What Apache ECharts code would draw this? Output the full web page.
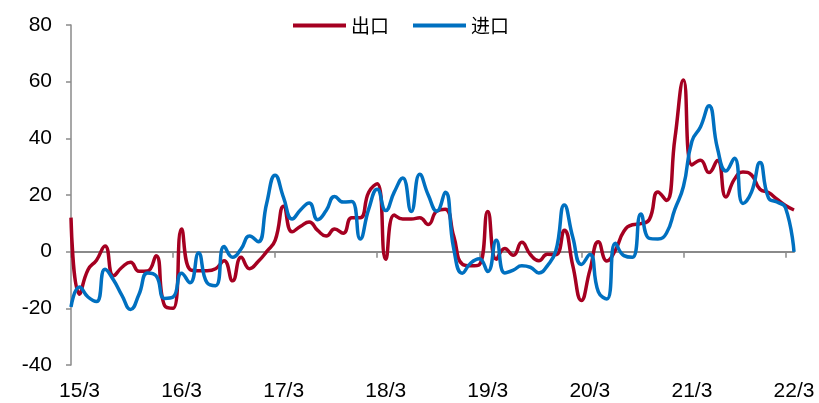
<!DOCTYPE html>
<html>
<head>
<meta charset="utf-8">
<title>出口 进口</title>
<script src="https://cdn.jsdelivr.net/npm/echarts@6/dist/echarts.min.js"></script>
<style>
  html, body { margin: 0; padding: 0; background: #fff; }
  #chart { width: 819px; height: 403px; }
</style>
</head>
<body>
<div id="chart"></div>
<script>
// 当月同比（%），2015/2 - 2022/3
var exportYoY = [
  12, -15, -6.4, -3, 2, -8.5, -5.5, -3.7, -6.9, -6.8, -1.4,
  -19, -20, 8, -6.3, -6.7, -6.7, -6, -3.2, -10.3, -2, -6, -3.5,
  0, 4, 16, 7, 9, 10.5, 7.5, 5.5, 8, 6.5, 12, 12,
  21, 24, -2.7, 12.9, 11.5, 11.5, 12, 9.6, 14.3, 15, 5.4, -4.4,
  -5, -4.6, 14.2, -2.7, 1.1, -1.3, 3.3, -1, -3.2, -0.9, -1.1, 7.6,
  -5, -17.2, -6.6, 3.5, -3.3, 0.5, 7.2, 9.5, 9.9, 11.4, 21.1, 18.1,
  40, 60.6, 30.6, 32.3, 27.9, 32.2, 19.3, 25.6, 28.1, 27.1, 22, 20.9,
  18.5, 16.3, 14.7
];
var importYoY = [
  -19.5, -12.5, -16, -17.6, -6.2, -10, -15.5, -20.4, -15, -7.5, -8.5,
  -16.5, -16, -7.6, -11, -0.5, -11, -12, 1.8, -2, 1, 5.5, 3.5,
  17, 27, 19, 11.5, 14.8, 17.2, 11.3, 14.5, 19.5, 17.5, 17.7, 4.5,
  15, 22, 14.5, 21, 26, 14.2, 27.3, 20, 14.3, 21, 1, -7.6,
  -4, -2.5, -7, 4, -7.5, -6.5, -5, -5.5, -7.5, -5, 0.3, 16.5,
  5, -4.5, -1, -14.2, -16.7, 3, -1.4, -2, 13.3, 4.7, 4.5, 6.5,
  15, 23, 39, 44, 51.5, 36.5, 28.5, 33, 17, 21, 31.5, 19,
  17.5, 15.5, -0.1
];
var tickLabels = ['15/3', '16/3', '17/3', '18/3', '19/3', '20/3', '21/3', '22/3'];
var seriesNames = ['出口', '进口'];

// 月份类目 15/2 ... 22/3
var months = [];
for (var y = 15; y <= 22; y++) {
  for (var m = 1; m <= 12; m++) {
    if ((y === 15 && m < 2) || (y === 22 && m > 3)) continue;
    months.push(y + '/' + m);
  }
}

var chart = echarts.init(document.getElementById('chart'));
var font = '"Liberation Sans", Arial, sans-serif';
var axisGray = '#8a8a8a';

chart.setOption({
  animation: false,
  backgroundColor: '#fff',
  legend: {
    data: seriesNames,
    left: 293,
    top: 16,
    padding: 0,
    icon: 'rect',
    itemWidth: 53,
    itemHeight: 4,
    itemGap: 24,
    textStyle: { fontFamily: '"Noto Sans CJK SC", sans-serif', fontSize: 19, color: '#000' }
  },
  grid: { left: 71, right: 25, top: 25, bottom: 38, outerBoundsMode: 'none' },
  xAxis: [
    {
      type: 'category',
      data: months,
      boundaryGap: false,
      axisLine: { onZero: true, lineStyle: { color: axisGray, width: 2 } },
      axisTick: {
        length: 6,
        lineStyle: { color: axisGray, width: 1.5 },
        interval: function (i) { return i % 12 === 0; }
      },
      axisLabel: { show: false },
      splitLine: { show: false }
    },
    {
      type: 'category',
      data: months,
      boundaryGap: false,
      position: 'bottom',
      axisLine: { show: false, onZero: false },
      axisTick: { show: false },
      axisLabel: {
        margin: 16,
        fontFamily: font,
        fontSize: 21,
        color: '#000',
        interval: function (i) { return i % 12 === 1; },
        formatter: function (v, i) { return tickLabels[(i - 1) / 12]; }
      },
      splitLine: { show: false }
    }
  ],
  yAxis: {
    type: 'value',
    min: -40,
    max: 80,
    interval: 20,
    axisLine: { show: true, lineStyle: { color: axisGray, width: 1.5 } },
    axisTick: { show: true, length: 5, lineStyle: { color: axisGray, width: 1.5 } },
    axisLabel: { margin: 19, fontFamily: font, fontSize: 21, color: '#000' },
    splitLine: { show: false }
  },
  series: [
    {
      name: seriesNames[0],
      type: 'line',
      data: exportYoY,
      smooth: 0.5,
      symbol: 'none',
      lineStyle: { color: '#A50021', width: 3.5 },
      itemStyle: { color: '#A50021' }
    },
    {
      name: seriesNames[1],
      type: 'line',
      data: importYoY,
      smooth: 0.5,
      symbol: 'none',
      lineStyle: { color: '#0070C0', width: 3.5 },
      itemStyle: { color: '#0070C0' }
    }
  ]
});
</script>
</body>
</html>
